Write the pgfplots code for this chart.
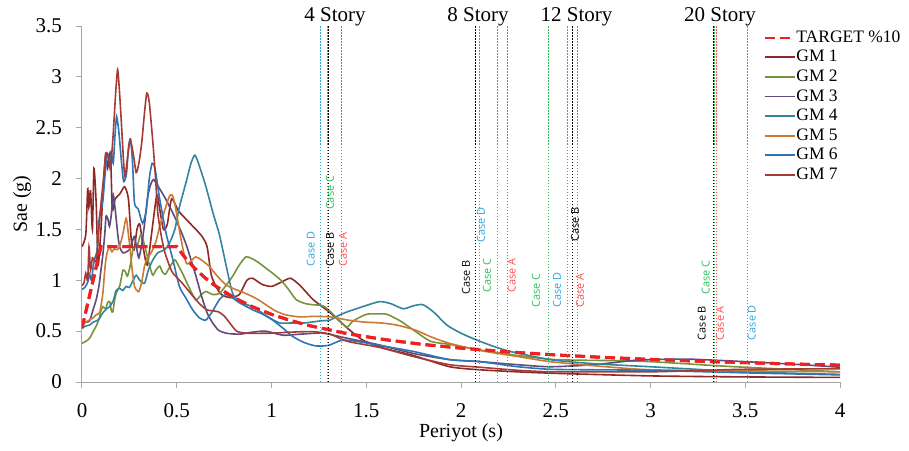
\documentclass[border=0pt]{standalone}
\usepackage{fontspec}
\usepackage{pgfplots}
\pgfplotsset{compat=1.18}
\setmainfont{Liberation Serif}
\newfontfamily\casefont{Open Sans}
\definecolor{gmone}{HTML}{8E2A26}
\definecolor{gmtwo}{HTML}{77933C}
\definecolor{gmthree}{HTML}{604A7B}
\definecolor{gmfour}{HTML}{31859C}
\definecolor{gmfive}{HTML}{CC7A33}
\definecolor{gmsix}{HTML}{2E75B6}
\definecolor{gmseven}{HTML}{A83A36}
\definecolor{target}{HTML}{F02020}
\definecolor{caseA}{HTML}{FF4D4D}
\definecolor{caseC}{HTML}{2DBE5A}
\definecolor{caseD}{HTML}{2AA7E0}
\definecolor{axgray}{HTML}{A6A6A6}
\begin{document}
\begin{tikzpicture}
\begin{axis}[
 scale only axis, width=758pt, height=356pt,
 xmin=0, xmax=4, ymin=0, ymax=3.5,
 axis lines*=left,
 axis line style={draw=axgray, line width=1pt},
 xtick={0,0.5,...,4}, ytick={0,0.5,...,3.5},
 tick align=outside, major tick length=6pt,
 tick style={axgray, line width=1pt},
 ticklabel style={font=\fontsize{21}{24}\selectfont},
 /pgf/number format/assume math mode=true,
 yticklabel style={anchor=east, inner sep=0pt, xshift=-14pt},
 xticklabel style={anchor=north, inner sep=0pt, yshift=-15pt},
 xlabel={Periyot (s)}, ylabel={Sae (g)},
 label style={font=\fontsize{20}{24}\selectfont},
 xlabel style={at={(axis description cs:0.5,-0.157)}, anchor=base},
 ylabel style={at={(axis description cs:-0.079,0.5)}, anchor=center},
 clip mode=individual,
 legend style={at={(rel axis cs:0.895,0.997)}, anchor=north west, draw=none, fill=none,
   font=\fontsize{17.5}{19}\selectfont, row sep=2.6pt,
   nodes={inner sep=1pt, text height=12pt, text depth=3pt}},
 legend cell align=left,
 legend image code/.code={\draw[line width=1.8pt,#1] (0pt,0pt) -- (30pt,0pt);},
 gm/.style={smooth, tension=0.4, line width=1.6pt},
]
% Target (legend)
\addplot[target, line width=3pt, dash pattern=on 10pt off 5pt] coordinates {
(0,0.53) (0.1,1.33) (0.5,1.33) (0.55,1.209) (0.6,1.108) (0.65,1.023) (0.7,0.950) (0.8,0.831) (0.9,0.739) (1.0,0.665) (1.1,0.605) (1.2,0.554) (1.4,0.475) (1.6,0.416) (1.8,0.369) (2.0,0.333) (2.25,0.296) (2.5,0.266) (2.75,0.242) (3.0,0.222) (3.25,0.205) (3.5,0.190) (3.75,0.177) (4.0,0.166)};
\addlegendentry{TARGET \%10}
% GM 1
\addplot[gmone, gm] coordinates {
(0,1.33) (0.02,1.45) (0.03,1.9) (0.036,1.72) (0.045,1.88) (0.055,1.5) (0.063,2.1) (0.075,1.75) (0.085,1.15) (0.1,1.5) (0.11,1.85) (0.125,2.25) (0.135,2.1) (0.15,2.25) (0.16,1.7) (0.175,1.8) (0.2,1.85) (0.225,1.92) (0.245,1.8) (0.26,1.4) (0.275,1.3) (0.29,1.5) (0.305,1.55) (0.325,1.3) (0.345,1.15) (0.37,1.5) (0.395,1.84) (0.41,1.7) (0.43,1.5) (0.45,1.55) (0.473,1.8) (0.51,1.68) (0.57,1.56) (0.63,1.44) (0.66,1.33) (0.684,1.04) (0.73,0.87) (0.78,0.83) (0.83,0.86) (0.87,1.0) (0.9,1.02) (0.95,0.96) (1.0,0.94) (1.05,0.98) (1.1,1.02) (1.15,0.95) (1.22,0.81) (1.31,0.68) (1.40,0.53) (1.484,0.41) (1.6,0.33) (1.75,0.26) (1.94,0.15) (2.1,0.12) (2.3,0.10) (2.5,0.085) (3.0,0.06) (3.5,0.05) (4.0,0.045)};
\addlegendentry{GM 1}
% GM 2
\addplot[gmtwo, gm] coordinates {
(0,0.38) (0.02,0.40) (0.04,0.43) (0.06,0.50) (0.075,0.55) (0.09,0.62) (0.1,0.70) (0.11,0.74) (0.125,0.72) (0.135,0.78) (0.146,0.79) (0.155,0.70) (0.163,0.69) (0.17,0.78) (0.18,0.87) (0.2,0.95) (0.216,1.10) (0.23,1.08) (0.24,1.04) (0.255,1.15) (0.27,1.31) (0.29,1.33) (0.31,1.45) (0.325,1.38) (0.34,1.27) (0.36,1.12) (0.374,1.05) (0.39,1.10) (0.41,1.14) (0.425,1.08) (0.44,1.06) (0.46,1.12) (0.49,1.20) (0.51,1.14) (0.53,1.07) (0.56,0.95) (0.6,0.81) (0.63,0.86) (0.654,0.89) (0.69,0.86) (0.725,0.87) (0.76,0.95) (0.795,1.04) (0.83,1.15) (0.865,1.23) (0.9,1.21) (0.935,1.17) (0.97,1.12) (1.005,1.07) (1.05,1.00) (1.09,0.91) (1.13,0.81) (1.18,0.77) (1.22,0.76) (1.27,0.75) (1.30,0.71) (1.344,0.63) (1.397,0.54) (1.43,0.60) (1.50,0.665) (1.56,0.67) (1.61,0.665) (1.68,0.60) (1.75,0.51) (1.84,0.40) (1.94,0.37) (2.1,0.315) (2.3,0.26) (2.5,0.22) (2.8,0.21) (3.0,0.20) (3.35,0.16) (3.5,0.145) (4.0,0.10)};
\addlegendentry{GM 2}
% GM 3
\addplot[gmthree, gm] coordinates {
(0,0.58) (0.02,0.59) (0.04,0.60) (0.06,0.72) (0.075,0.81) (0.09,0.95) (0.1,1.10) (0.11,1.25) (0.12,1.45) (0.127,1.63) (0.137,1.60) (0.145,1.53) (0.155,1.65) (0.165,1.84) (0.175,1.70) (0.19,1.43) (0.2,1.32) (0.216,1.27) (0.235,1.28) (0.25,1.30) (0.265,1.38) (0.277,1.43) (0.29,1.30) (0.30,1.22) (0.315,1.35) (0.33,1.55) (0.345,1.80) (0.36,1.93) (0.377,1.99) (0.40,1.93) (0.444,1.79) (0.5,1.58) (0.55,1.35) (0.6,1.05) (0.63,0.85) (0.66,0.68) (0.69,0.58) (0.72,0.51) (0.76,0.48) (0.83,0.47) (0.9,0.49) (0.97,0.50) (1.06,0.46) (1.15,0.47) (1.27,0.48) (1.40,0.43) (1.57,0.364) (1.75,0.28) (1.94,0.22) (2.1,0.20) (2.3,0.17) (2.47,0.15) (2.7,0.17) (2.9,0.21) (3.0,0.22) (3.2,0.225) (3.5,0.20) (3.8,0.17) (4.0,0.145)};
\addlegendentry{GM 3}
% GM 4
\addplot[gmfour, gm] coordinates {
(0,0.53) (0.02,0.55) (0.04,0.56) (0.06,0.59) (0.075,0.60) (0.09,0.62) (0.11,0.68) (0.13,0.72) (0.146,0.74) (0.165,0.80) (0.18,0.90) (0.2,0.92) (0.215,0.90) (0.233,0.94) (0.25,0.93) (0.27,1.00) (0.286,1.05) (0.305,1.00) (0.33,0.97) (0.35,1.10) (0.374,1.20) (0.40,1.27) (0.435,1.30) (0.46,1.36) (0.49,1.50) (0.514,1.72) (0.55,1.97) (0.575,2.15) (0.596,2.23) (0.62,2.12) (0.654,1.92) (0.693,1.65) (0.725,1.45) (0.76,1.15) (0.795,0.87) (0.83,0.80) (0.87,0.76) (0.9,0.74) (0.95,0.68) (1.0,0.62) (1.045,0.58) (1.1,0.58) (1.17,0.58) (1.256,0.60) (1.31,0.61) (1.35,0.65) (1.40,0.69) (1.48,0.74) (1.57,0.79) (1.63,0.77) (1.695,0.72) (1.75,0.75) (1.80,0.76) (1.86,0.68) (1.925,0.56) (2.0,0.48) (2.1,0.40) (2.24,0.31) (2.47,0.22) (2.7,0.18) (3.0,0.15) (3.5,0.10) (4.0,0.075)};
\addlegendentry{GM 4}
% GM 5
\addplot[gmfive, gm] coordinates {
(0,0.56) (0.03,0.60) (0.058,0.63) (0.075,0.66) (0.093,0.68) (0.1,0.75) (0.11,0.87) (0.12,1.10) (0.128,1.23) (0.137,1.30) (0.146,1.33) (0.158,1.28) (0.17,1.31) (0.185,1.30) (0.198,1.33) (0.215,1.45) (0.233,1.61) (0.245,1.45) (0.256,1.27) (0.265,1.10) (0.277,0.94) (0.29,0.90) (0.30,0.89) (0.315,0.98) (0.33,1.14) (0.345,1.22) (0.365,1.27) (0.39,1.38) (0.41,1.53) (0.435,1.68) (0.46,1.82) (0.475,1.84) (0.49,1.75) (0.52,1.43) (0.55,1.17) (0.575,1.19) (0.60,1.23) (0.63,1.20) (0.67,1.14) (0.71,1.05) (0.76,0.955) (0.81,0.91) (0.865,0.87) (0.92,0.82) (0.97,0.76) (1.02,0.70) (1.075,0.66) (1.15,0.64) (1.22,0.645) (1.31,0.64) (1.40,0.61) (1.485,0.59) (1.58,0.58) (1.66,0.56) (1.76,0.51) (1.84,0.445) (1.94,0.38) (2.1,0.31) (2.3,0.25) (2.47,0.20) (2.7,0.16) (3.0,0.12) (3.5,0.11) (4.0,0.10)};
\addlegendentry{GM 5}
% GM 6
\addplot[gmsix, gm] coordinates {
(0,0.91) (0.015,0.93) (0.03,0.98) (0.04,1.06) (0.05,1.00) (0.06,1.15) (0.07,1.23) (0.08,1.30) (0.09,1.59) (0.1,1.70) (0.11,1.78) (0.12,2.00) (0.13,2.20) (0.14,2.23) (0.148,2.10) (0.155,2.25) (0.165,2.15) (0.175,2.45) (0.183,2.61) (0.195,2.45) (0.209,2.15) (0.22,1.97) (0.235,2.05) (0.245,2.30) (0.256,2.39) (0.267,2.15) (0.277,1.76) (0.297,1.70) (0.32,1.56) (0.34,1.70) (0.355,2.00) (0.37,2.15) (0.385,2.10) (0.41,1.80) (0.444,1.46) (0.48,1.20) (0.514,0.94) (0.55,0.82) (0.584,0.71) (0.62,0.63) (0.654,0.61) (0.69,0.70) (0.725,0.81) (0.76,0.86) (0.80,0.82) (0.83,0.78) (0.9,0.71) (0.95,0.67) (1.005,0.61) (1.06,0.53) (1.11,0.45) (1.17,0.39) (1.233,0.355) (1.30,0.36) (1.37,0.41) (1.45,0.40) (1.57,0.36) (1.75,0.30) (1.94,0.22) (2.1,0.20) (2.3,0.15) (2.47,0.125) (2.7,0.12) (3.0,0.115) (3.5,0.09) (4.0,0.07)};
\addlegendentry{GM 6}
% GM 7
\addplot[gmseven, gm] coordinates {
(0,0.95) (0.01,0.97) (0.02,1.07) (0.03,1.00) (0.037,1.33) (0.045,1.10) (0.055,1.22) (0.065,1.20) (0.077,1.20) (0.09,1.53) (0.1,1.75) (0.113,1.99) (0.124,2.22) (0.135,2.25) (0.145,2.15) (0.152,2.12) (0.165,2.45) (0.178,2.85) (0.188,3.07) (0.198,2.85) (0.209,2.51) (0.22,2.15) (0.227,2.02) (0.24,2.20) (0.254,2.38) (0.27,2.25) (0.286,2.06) (0.30,2.15) (0.315,2.35) (0.33,2.65) (0.342,2.84) (0.355,2.75) (0.376,2.31) (0.39,1.95) (0.40,1.66) (0.42,1.42) (0.438,1.27) (0.46,1.15) (0.48,1.07) (0.53,0.97) (0.587,0.84) (0.62,0.77) (0.658,0.71) (0.69,0.70) (0.72,0.69) (0.75,0.65) (0.78,0.58) (0.816,0.50) (0.87,0.48) (1.0,0.48) (1.1,0.49) (1.22,0.495) (1.31,0.47) (1.40,0.40) (1.57,0.34) (1.75,0.25) (1.94,0.17) (2.1,0.145) (2.3,0.115) (2.47,0.10) (2.7,0.10) (3.0,0.10) (3.3,0.115) (3.5,0.125) (4.0,0.13)};
\addlegendentry{GM 7}
% Target on top
\addplot[target, line width=3pt, dash pattern=on 10pt off 5pt, forget plot] coordinates {
(0,0.53) (0.1,1.33) (0.5,1.33) (0.55,1.209) (0.6,1.108) (0.65,1.023) (0.7,0.950) (0.8,0.831) (0.9,0.739) (1.0,0.665) (1.1,0.605) (1.2,0.554) (1.4,0.475) (1.6,0.416) (1.8,0.369) (2.0,0.333) (2.25,0.296) (2.5,0.266) (2.75,0.242) (3.0,0.222) (3.25,0.205) (3.5,0.190) (3.75,0.177) (4.0,0.166)};
% vertical period lines
\pgfplotsset{vl/.style={forget plot, line width=1pt, dash pattern=on 1.5pt off 1.5pt}}
\addplot[vl, caseD] coordinates {(1.256,0) (1.256,3.5)};
\addplot[vl, caseC] coordinates {(1.293,0) (1.293,3.5)};
\addplot[vl, black] coordinates {(1.302,0) (1.302,3.5)};
\addplot[vl, caseA] coordinates {(1.367,0) (1.367,3.5)};
\addplot[vl, black] coordinates {(2.077,0) (2.077,3.5)};
\addplot[vl, caseD] coordinates {(2.097,0) (2.097,3.5)};
\addplot[vl, caseC] coordinates {(2.195,0) (2.195,3.5)};
\addplot[vl, caseA] coordinates {(2.244,0) (2.244,3.5)};
\addplot[vl, caseC] coordinates {(2.461,0) (2.461,3.5)};
\addplot[vl, caseD] coordinates {(2.563,0) (2.563,3.5)};
\addplot[vl, black] coordinates {(2.587,0) (2.587,3.5)};
\addplot[vl, caseA] coordinates {(2.617,0) (2.617,3.5)};
\addplot[vl, black] coordinates {(3.333,0) (3.333,3.5)};
\addplot[vl, caseC] coordinates {(3.340,0) (3.340,3.5)};
\addplot[vl, caseA] coordinates {(3.347,0) (3.347,3.5)};
\addplot[vl, caseD] coordinates {(3.513,0) (3.513,3.5)};
% labels
\tikzset{cl/.style={rotate=90, anchor=west, inner sep=0pt, font=\casefont\fontsize{10.9}{12}\selectfont}}
\node[cl, text=caseD] at (axis cs:1.207,1.13) {Case D};
\node[cl, text=black] at (axis cs:1.309,1.13) {Case B};
\node[cl, text=caseC] at (axis cs:1.309,1.69) {Case C};
\node[cl, text=caseA] at (axis cs:1.377,1.13) {Case A};
\node[cl, text=black] at (axis cs:2.026,0.855) {Case B};
\node[cl, text=caseD] at (axis cs:2.106,1.37) {Case D};
\node[cl, text=caseC] at (axis cs:2.137,0.875) {Case C};
\node[cl, text=caseA] at (axis cs:2.268,0.875) {Case A};
\node[cl, text=caseC] at (axis cs:2.396,0.73) {Case C};
\node[cl, text=caseD] at (axis cs:2.507,0.73) {Case D};
\node[cl, text=black] at (axis cs:2.602,1.38) {Case B};
\node[cl, text=caseA] at (axis cs:2.628,0.73) {Case A};
\node[cl, text=black] at (axis cs:3.270,0.41) {Case B};
\node[cl, text=caseC] at (axis cs:3.291,0.855) {Case C};
\node[cl, text=caseA] at (axis cs:3.367,0.41) {Case A};
\node[cl, text=caseD] at (axis cs:3.534,0.41) {Case D};
% story titles
\tikzset{st/.style={anchor=base, inner sep=0pt, font=\fontsize{21}{24}\selectfont}}
\node[st] at (axis cs:1.335,3.5) [yshift=5pt] {4 Story};
\node[st] at (axis cs:2.09,3.5) [yshift=5pt] {8 Story};
\node[st] at (axis cs:2.61,3.5) [yshift=5pt] {12 Story};
\node[st] at (axis cs:3.367,3.5) [yshift=5pt] {20 Story};
\end{axis}
\pgfresetboundingbox
\path[use as bounding box] ([shift={(-82pt,-68pt)}]current axis.south west) rectangle ([shift={(69pt,26pt)}]current axis.north east);
\end{tikzpicture}
\end{document}
